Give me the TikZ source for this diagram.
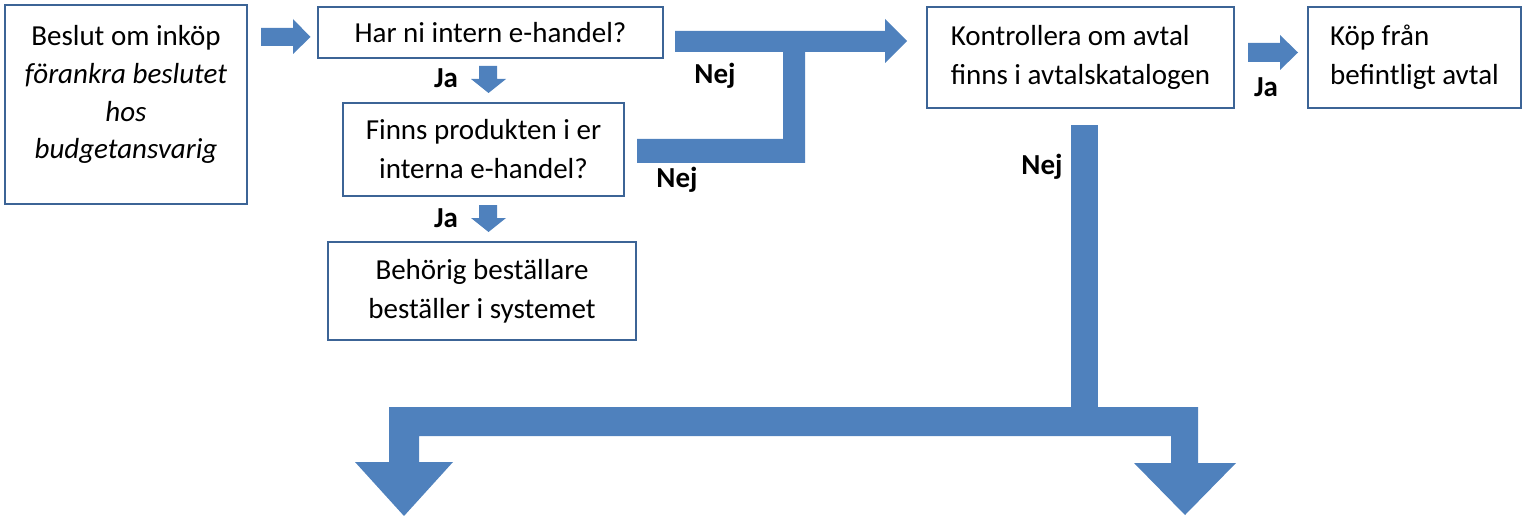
\documentclass[tikz,border=0pt]{standalone}
\usepackage{fontspec}
\setmainfont{Carlito}
\definecolor{arrowblue}{RGB}{79,129,189}
\definecolor{boxblue}{RGB}{60,100,150}
\begin{document}
\begin{tikzpicture}[x=1pt,y=-1pt,
  box/.style={draw=boxblue, line width=1.8pt, fill=white, inner sep=0pt,
    align=center, font=\fontsize{29}{39}\selectfont},
  txt/.style={inner sep=0pt, align=center, font=\fontsize{29}{37.7}\selectfont},
  blk/.style={fill=arrowblue, draw=none},
  lbl/.style={font=\fontsize{29}{35}\selectfont\bfseries, anchor=base, inner sep=0pt}]
\useasboundingbox (0,0) rectangle (1526,516);

% boxes
\node[box, minimum width=242pt, minimum height=199pt] (b1) at (126,104.5) {};
\node[txt, anchor=north] (b1t) at (126,25.5) {Beslut om inköp\\\textit{förankra beslutet}\\\textit{hos}\\\textit{budgetansvarig}};
\node[box, minimum width=345pt, minimum height=51pt] (b2) at (490.5,32.5) {Har ni intern e-handel?};
\node[box, minimum width=281pt, minimum height=93pt] (b3) at (483.5,149.5) {Finns produkten i er\\interna e-handel?};
\node[box, minimum width=308pt, minimum height=98pt] (b4) at (482,291) {Behörig beställare\\beställer i systemet};
\node[box, align=left, minimum width=307pt, minimum height=101pt] (b5) at (1080.5,57.5) {Kontrollera om avtal\\finns i avtalskatalogen};
\node[box, align=left, minimum width=213pt, minimum height=101pt] (b6) at (1414.5,57.5) {Köp från\\befintligt avtal};

% block arrows
\fill[blk] (261,28) -- (293,28) -- (293,19) -- (310.5,37) -- (293,54) -- (293,46) -- (261,46) -- cycle;
\fill[blk] (479,66) -- (497,66) -- (497,79) -- (506,79) -- (488.5,93) -- (471,79) -- (479,79) -- cycle;
\fill[blk] (479,205) -- (497,205) -- (497,218) -- (506,218) -- (488.5,232) -- (471,218) -- (479,218) -- cycle;
\fill[blk] (675,31) -- (885,31) -- (885,19) -- (907,41) -- (885,63) -- (885,52) -- (675,52) -- cycle;
\fill[blk] (637,139) -- (783,139) -- (783,50) -- (805,50) -- (805,163) -- (637,163) -- cycle;
\fill[blk] (1248,43) -- (1280,43) -- (1280,35) -- (1298,52.5) -- (1280,70) -- (1280,62) -- (1248,62) -- cycle;
\fill[blk] (1071,125) rectangle (1098,420);
\fill[blk] (1198,407) -- (1198,463) -- (1236,463) -- (1185,515) -- (1134,463) -- (1171,463) -- (1171,436)
  -- (419,436) -- (419,462) -- (453,462) -- (404,516) -- (355,462) -- (389,462) -- (389,407) -- cycle;

% labels
\node[lbl] (ja1) at (446,88) {Ja};
\node[lbl] (ja2) at (446,227) {Ja};
\node[lbl] (ja3) at (1266,97) {Ja};
\node[lbl] (nej1) at (715,83.5) {Nej};
\node[lbl] (nej2) at (677,187) {Nej};
\node[lbl] (nej3) at (1042,175) {Nej};
\end{tikzpicture}
\end{document}
